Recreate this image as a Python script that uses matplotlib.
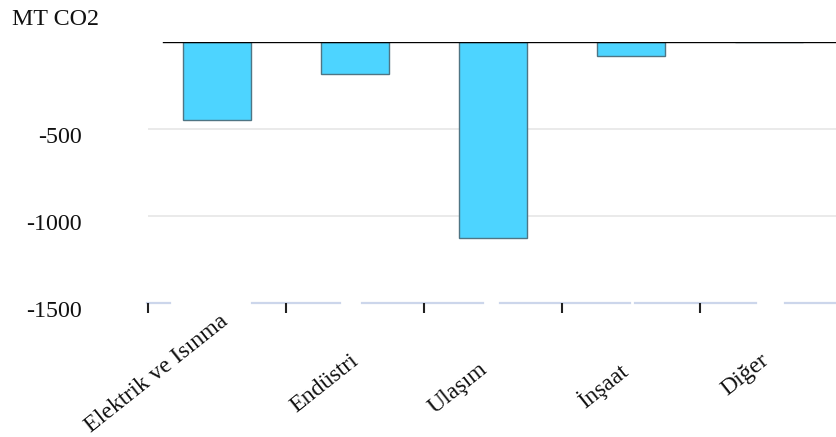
import numpy as np
import matplotlib
matplotlib.use("Agg")
import matplotlib.pyplot as plt
from matplotlib import transforms

plt.rcParams['font.family'] = ['Liberation Serif', 'DejaVu Serif']

# emissions change by sector (MT CO2)
sectors = ["Elektrik ve Isınma", "Endüstri", "Ulaşım", "İnşaat", "Diğer"]
change = [-450, -185, -1130, -85, 0]
yticks = [-500, -1000, -1500]
ylabel = "MT CO2"

W, H = 836, 437
fig = plt.figure(figsize=(W / 100, H / 100), dpi=100)
# plot area in pixels: left 148, right 838, top 41.5, bottom 302.5
L, R, T, B = 148, 838, 41.5, 302.5
ax = fig.add_axes([L / W, (H - B) / H, (R - L) / W, (B - T) / H])

x = np.arange(len(sectors))
ax.bar(x, change, width=0.493, color="#4dd4ff", edgecolor="#4f7584",
       linewidth=1.0, zorder=2)

ax.set_xlim(-0.5, len(sectors) - 0.5)
ax.set_ylim(-1500, 0)
for s in ax.spines.values():
    s.set_visible(False)

# grid lines
for v in yticks[:-1]:
    ax.axhline(v, color="#e6e6e6", lw=1.2, zorder=1)

# zero line
ax.axhline(0, xmin=(163 - L) / (R - L), color="black", lw=1.0, zorder=3)

# broken axis line at the bottom
segs = [(147, 170), (252, 340), (362, 483), (500, 630), (635, 756), (785, 838)]
for a, b in segs:
    ax.axhline(-1500, xmin=(a - L) / (R - L), xmax=(b - L) / (R - L),
               color="#ccd6eb", lw=1.6, zorder=1, clip_on=False)

# tick marks at category boundaries
ax.set_xticks(x - 0.5)
ax.set_xticklabels([])
ax.tick_params(axis="x", length=7, width=1.5, color="#222222", direction="out")
ax.set_yticks([])

# y labels
ytr = transforms.offset_copy(ax.get_yaxis_transform(), fig=fig,
                             x=-66, y=-9, units="dots")
for v in yticks:
    ax.text(0, v, str(v), transform=ytr, ha="right", va="center",
            fontsize=17.3, color="#111111")

# rotated category labels, anchored at the end of the baseline
dx = [12.5, 4, -4.5, -1, 0.5]
dy = [20.5, 60, 68.5, 71.5, 59.5]
for i, lab in enumerate(sectors):
    tr = transforms.offset_copy(ax.get_xaxis_transform(), fig=fig,
                                x=dx[i], y=-dy[i], units="dots")
    ax.text(i, 0, lab, transform=tr, rotation=38.5, rotation_mode="anchor",
            ha="right", va="baseline", fontsize=17.2, color="#111111",
            clip_on=False)

fig.text(12.5 / W, 1 - 25 / H, ylabel, ha="left", va="baseline",
         fontsize=17.3, color="#111111")

fig.savefig("out.png", dpi=100)
